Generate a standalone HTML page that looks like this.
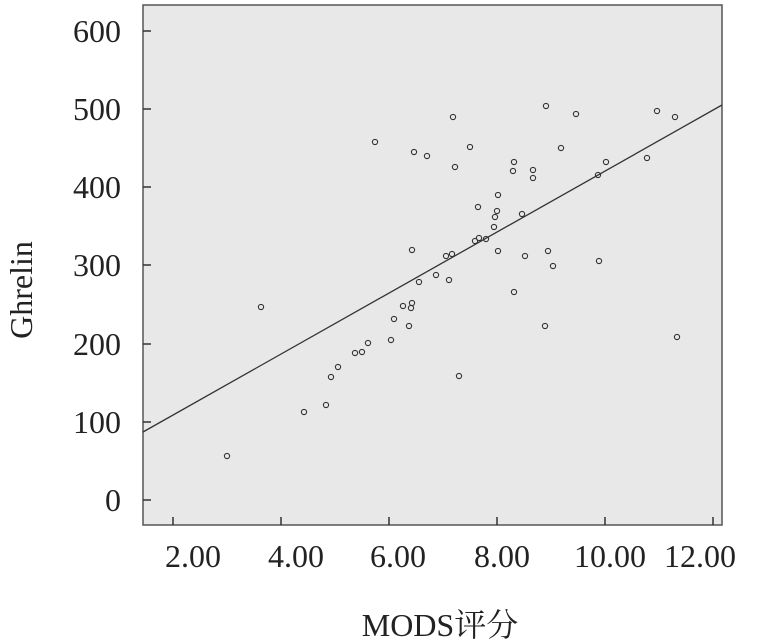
<!DOCTYPE html><html><head><meta charset="utf-8"><style>body{margin:0;background:#fff}svg{display:block}</style></head><body>
<svg width="760" height="642" xmlns="http://www.w3.org/2000/svg" font-family="Liberation Serif, Noto Serif CJK SC, serif">
<rect x="143" y="5" width="579" height="520" fill="#e8e8e8" stroke="#555" stroke-width="1.5"/>
<g stroke="#333" stroke-width="1.5">
<line x1="143" y1="31" x2="151" y2="31"/><line x1="143" y1="109" x2="151" y2="109"/><line x1="143" y1="187" x2="151" y2="187"/><line x1="143" y1="265" x2="151" y2="265"/><line x1="143" y1="344" x2="151" y2="344"/><line x1="143" y1="422" x2="151" y2="422"/><line x1="143" y1="500" x2="151" y2="500"/>
<line x1="173" y1="525" x2="173" y2="517"/><line x1="281" y1="525" x2="281" y2="517"/><line x1="389" y1="525" x2="389" y2="517"/><line x1="497" y1="525" x2="497" y2="517"/><line x1="605" y1="525" x2="605" y2="517"/><line x1="713" y1="525" x2="713" y2="517"/>
</g>
<g font-size="32" fill="#222" text-anchor="end">
<text x="121" y="42">600</text><text x="121" y="120">500</text><text x="121" y="198">400</text><text x="121" y="276">300</text><text x="121" y="355">200</text><text x="121" y="433">100</text><text x="121" y="511">0</text>
</g>
<g font-size="32" fill="#222" text-anchor="middle">
<text x="193" y="567">2.00</text><text x="296" y="567">4.00</text><text x="398" y="567">6.00</text><text x="502" y="567">8.00</text><text x="610" y="567">10.00</text><text x="700" y="567">12.00</text>
<text x="440" y="636">MODS评分</text>
<text transform="translate(32,290) rotate(-90)">Ghrelin</text>
</g>
<line x1="143" y1="432" x2="722" y2="105" stroke="#333" stroke-width="1.3"/>
<g fill="none" stroke="#333" stroke-width="1.1">
<circle cx="227" cy="456" r="2.6"/><circle cx="261" cy="307" r="2.6"/><circle cx="304" cy="412" r="2.6"/><circle cx="326" cy="405" r="2.6"/><circle cx="331" cy="377" r="2.6"/><circle cx="338" cy="367" r="2.6"/><circle cx="355" cy="353" r="2.6"/><circle cx="362" cy="352" r="2.6"/><circle cx="368" cy="343" r="2.6"/><circle cx="375" cy="142" r="2.6"/><circle cx="391" cy="340" r="2.6"/><circle cx="394" cy="319" r="2.6"/><circle cx="403" cy="306" r="2.6"/><circle cx="409" cy="326" r="2.6"/><circle cx="411" cy="308" r="2.6"/><circle cx="412" cy="303" r="2.6"/><circle cx="412" cy="250" r="2.6"/><circle cx="414" cy="152" r="2.6"/><circle cx="419" cy="282" r="2.6"/><circle cx="427" cy="156" r="2.6"/><circle cx="436" cy="275" r="2.6"/><circle cx="446" cy="256" r="2.6"/><circle cx="449" cy="280" r="2.6"/><circle cx="452" cy="254" r="2.6"/><circle cx="453" cy="117" r="2.6"/><circle cx="455" cy="167" r="2.6"/><circle cx="459" cy="376" r="2.6"/><circle cx="470" cy="147" r="2.6"/><circle cx="475" cy="241" r="2.6"/><circle cx="478" cy="207" r="2.6"/><circle cx="479" cy="238" r="2.6"/><circle cx="486" cy="239" r="2.6"/><circle cx="494" cy="227" r="2.6"/><circle cx="495" cy="217" r="2.6"/><circle cx="497" cy="211" r="2.6"/><circle cx="498" cy="195" r="2.6"/><circle cx="498" cy="251" r="2.6"/><circle cx="513" cy="171" r="2.6"/><circle cx="514" cy="162" r="2.6"/><circle cx="514" cy="292" r="2.6"/><circle cx="522" cy="214" r="2.6"/><circle cx="525" cy="256" r="2.6"/><circle cx="533" cy="170" r="2.6"/><circle cx="533" cy="178" r="2.6"/><circle cx="545" cy="326" r="2.6"/><circle cx="546" cy="106" r="2.6"/><circle cx="548" cy="251" r="2.6"/><circle cx="553" cy="266" r="2.6"/><circle cx="561" cy="148" r="2.6"/><circle cx="576" cy="114" r="2.6"/><circle cx="598" cy="175" r="2.6"/><circle cx="599" cy="261" r="2.6"/><circle cx="606" cy="162" r="2.6"/><circle cx="647" cy="158" r="2.6"/><circle cx="657" cy="111" r="2.6"/><circle cx="675" cy="117" r="2.6"/><circle cx="677" cy="337" r="2.6"/>
</g>
</svg></body></html>
